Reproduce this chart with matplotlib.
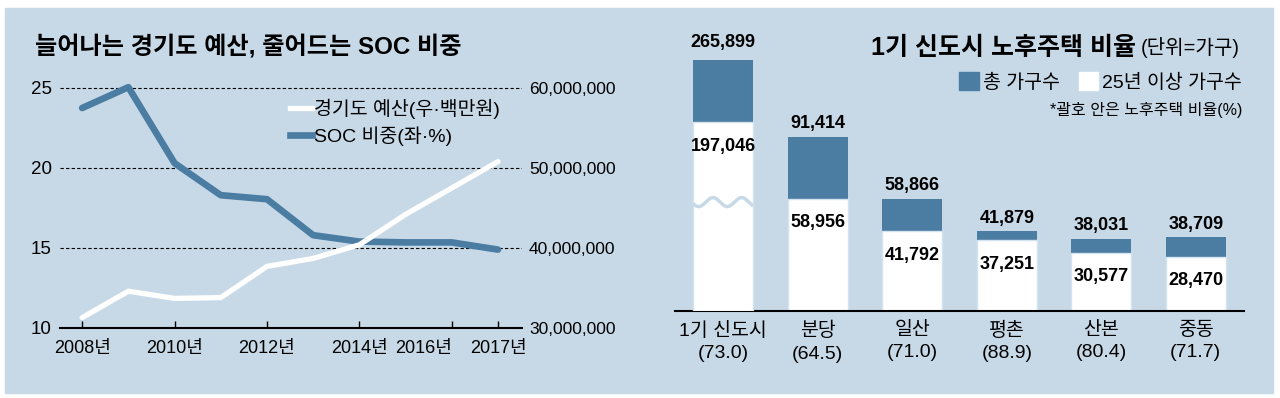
import numpy as np
import matplotlib
matplotlib.use("Agg")
import matplotlib.pyplot as plt
import matplotlib.transforms as mtransforms
from matplotlib.lines import Line2D
from matplotlib.patches import Patch, Rectangle
from matplotlib.ticker import FuncFormatter

# 왼쪽: 경기도 예산 / SOC 비중
years = [2008, 2009, 2010, 2011, 2012, 2013, 2014, 2015, 2016, 2017]
soc_share = [23.75, 25.05, 20.3, 18.3, 18.05, 15.8, 15.4, 15.35, 15.35, 14.9]
budget = [31_300_000, 34_600_000, 33_700_000, 33_800_000, 37_700_000,
          38_700_000, 40_400_000, 44_200_000, 47_500_000, 50_800_000]
year_ticks = [2008, 2010, 2012, 2014, 2016, 2017]
left_ticks = [10, 15, 20, 25]
right_ticks = [30_000_000, 40_000_000, 50_000_000, 60_000_000]

# 오른쪽: 1기 신도시 노후주택
cities = ["1기 신도시", "분당", "일산", "평촌", "산본", "중동"]
total_households = [265899, 91414, 58866, 41879, 38031, 38709]
old_households = [197046, 58956, 41792, 37251, 30577, 28470]
old_ratio = [73.0, 64.5, 71.0, 88.9, 80.4, 71.7]

BG = "#c7d9e7"
BLUE = "#4b7ca2"
W, H = 1280, 398

plt.rcParams["font.family"] = ["Liberation Sans", "Noto Sans CJK KR", "DejaVu Sans"]


def fx(px):
    return px / W


def fy(py):
    return 1 - py / H


fig = plt.figure(figsize=(W / 100, H / 100), dpi=100)
fig.patch.set_facecolor("white")
fig.patches.append(Rectangle((fx(5), fy(393)), fx(1268), 385 / H,
                             transform=fig.transFigure, color=BG, zorder=-10))

# ---- left chart ----
ax1 = fig.add_axes([fx(60), fy(328), 462 / W, 248 / H])
ax1.set_facecolor("none")
ax1.set_xlim(2007.52, 2017.52)
ax1.set_ylim(10, 25.5)
ax1.set_yticks(left_ticks)
ax1.grid(axis="y", color="black", lw=0.8, ls=(0, (3, 2)))
ax1.set_axisbelow(True)
for s in ["top", "left", "right"]:
    ax1.spines[s].set_visible(False)
ax1.spines["bottom"].set_linewidth(1.5)
ax1.set_xticks(year_ticks, [f"{y}년" for y in year_ticks])
ax1.tick_params(axis="x", direction="in", length=5, width=1, pad=9, labelsize=13)
ax1.tick_params(axis="y", length=0, pad=6, labelsize=13.5)
ax1.get_xticklabels()[4].set_ha("right")  # 2016년 / 2017년 겹침 방지
ax1.plot(years, soc_share, color=BLUE, lw=4.8, solid_capstyle="round", clip_on=False)

ax2 = ax1.twinx()
ax2.set_ylim(30_000_000, 61_000_000)
ax2.plot(years, budget, color="white", lw=3.8, solid_capstyle="round", clip_on=False)
ax2.set_yticks(right_ticks)
ax2.yaxis.set_major_formatter(FuncFormatter(lambda v, p: f"{int(v):,}"))
ax2.tick_params(axis="y", length=0, pad=5, labelsize=12.5)
for s in ax2.spines.values():
    s.set_visible(False)

handles = [Line2D([], [], color="white", lw=3.8), Line2D([], [], color=BLUE, lw=4.8)]
ax2.legend(handles, ["경기도 예산(우·백만원)", "SOC 비중(좌·%)"],
           loc="upper left", bbox_to_anchor=(fx(290), fy(99)), bbox_transform=fig.transFigure,
           frameon=False, fontsize=14, handlelength=1.15, handletextpad=0.1,
           labelspacing=0.35, borderpad=0, borderaxespad=0)

fig.text(fx(35), fy(47), "늘어나는 경기도 예산, 줄어드는 SOC 비중",
         ha="left", va="center", fontsize=17.4, fontweight="bold")

# ---- right chart ----
x = np.arange(len(cities))
bw = 0.635
ax3 = fig.add_axes([fx(675), fy(311), 569 / W, 251 / H])
ax3.set_facecolor("none")
ax3.set_xlim(-0.51, 5.51)
ax3.set_ylim(0, 131_900)
ax3.bar(x[1:], total_households[1:], bw, color=BLUE)
ax3.bar(x[1:], old_households[1:], bw, color="white", edgecolor="#d4e4ef", lw=1)
ax3.set_yticks([])
for s in ["top", "left", "right"]:
    ax3.spines[s].set_visible(False)
ax3.spines["bottom"].set_linewidth(1.5)
ax3.set_xticks(x, [f"{c}\n({r:.1f})" for c, r in zip(cities, old_ratio)])
ax3.tick_params(axis="x", length=0, pad=8, labelsize=14)
for lbl in ax3.get_xticklabels():
    lbl.set_linespacing(1.4)

# 1기 신도시 막대는 축을 끊어서 따로 그림
ax4 = ax3.twinx()
ax4.set_ylim(0, 261_700)
ax4.bar(x[:1], total_households[:1], bw, color=BLUE)
ax4.bar(x[:1], old_households[:1], bw, color="white", edgecolor="#d4e4ef", lw=1)
ax4.set_yticks([])
for s in ax4.spines.values():
    s.set_visible(False)

t = np.linspace(0, 1, 200)
wave = mtransforms.blended_transform_factory(ax4.transData, ax4.transAxes)
ax4.plot(x[0] - bw / 2 + bw * t, 0.434 + 0.018 * np.sin(2 * np.pi * 2.1 * t - 2.78),
         color=BG, lw=2.5, transform=wave, solid_capstyle="butt")

for i in x:
    a = ax4 if i == 0 else ax3
    a.annotate(f"{total_households[i]:,}", (i, total_households[i]), xytext=(0, 9.5),
               textcoords="offset points", ha="center", va="center",
               fontsize=13, fontweight="bold", annotation_clip=False)
    a.annotate(f"{old_households[i]:,}", (i, old_households[i]), xytext=(0, -17.3),
               textcoords="offset points", ha="center", va="center",
               fontsize=13, fontweight="bold", annotation_clip=False)

fig.text(fx(1136), fy(48), "1기 신도시 노후주택 비율", ha="right", va="center",
         fontsize=18, fontweight="bold")
fig.text(fx(1141), fy(48), "(단위=가구)", ha="left", va="center", fontsize=14.5)
fig.legend(handles=[Patch(color=BLUE), Patch(color="white")],
           labels=["총 가구수", "25년 이상 가구수"], loc="center right",
           bbox_to_anchor=(fx(1242), fy(82)), ncol=2, frameon=False, fontsize=14,
           handlelength=1.0, handleheight=1.0, handletextpad=0.2, columnspacing=1.0,
           borderpad=0, borderaxespad=0)
fig.text(fx(1242), fy(110), "*괄호 안은 노후주택 비율(%)", ha="right", va="center",
         fontsize=11.5)

fig.savefig("out.png", dpi=100)
